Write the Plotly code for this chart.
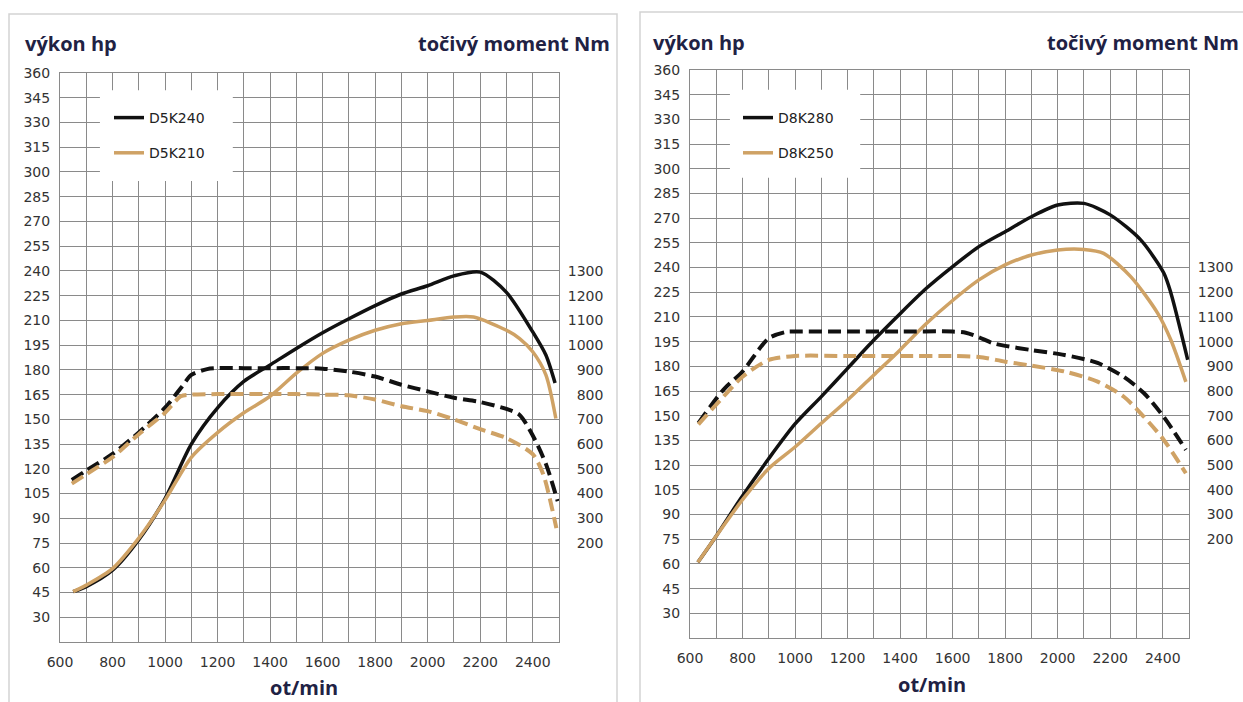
import plotly.graph_objects as go

W, H = 1243, 702

# ---------------- data: left panel (D5K240 / D5K210) ----------------
rpm_a = [650, 700, 800, 900, 1000, 1100, 1200, 1300, 1400, 1500, 1600, 1700, 1800, 1900, 2000, 2100, 2200, 2300, 2400, 2450, 2485]
hp_d5k240 = [45.5, 48.6, 58.5, 77, 102, 135, 157, 173, 183, 193, 202.5, 211, 219, 226, 231, 237, 239.3, 227, 203, 189, 172]

rpm_b = [650, 700, 800, 900, 1000, 1100, 1200, 1300, 1400, 1500, 1600, 1700, 1800, 1900, 2000, 2100, 2175, 2300, 2350, 2400, 2450, 2488]
hp_d5k210 = [45.5, 49.5, 59.5, 78, 101, 127, 142, 154, 164, 178, 190, 198, 204, 208, 210, 212, 212, 204, 199, 191, 177, 150.5]

rpm_c = [645, 700, 800, 900, 1000, 1065, 1100, 1160, 1200, 1300, 1400, 1500, 1600, 1700, 1800, 1900, 2000, 2100, 2200, 2300, 2350, 2400, 2450, 2495]
nm_d5k240 = [455, 493, 560, 647, 747, 833, 880, 903, 907, 907, 907, 907, 905, 893, 873, 840, 813, 787, 770, 742, 718, 635, 520, 369]

rpm_d = [645, 700, 800, 900, 1000, 1060, 1100, 1200, 1300, 1400, 1500, 1600, 1700, 1800, 1900, 2000, 2100, 2200, 2300, 2400, 2440, 2490]
nm_d5k210 = [440, 478, 547, 640, 727, 793, 800, 802, 802, 802, 802, 800, 797, 780, 753, 733, 700, 660, 624, 559, 478, 260]

# ---------------- data: right panel (D8K280 / D8K250) ----------------
rpm_e = [630, 700, 790, 900, 1000, 1100, 1200, 1300, 1400, 1500, 1600, 1700, 1800, 1900, 2000, 2100, 2200, 2316, 2404, 2431, 2495]
hp_d8k280 = [61, 77, 99, 124, 145, 161.6, 178.8, 196, 212, 227.4, 240.6, 252.7, 261.8, 270.9, 278, 279, 272, 256.8, 236.7, 224.6, 184]

rpm_f = [630, 700, 800, 900, 1000, 1100, 1200, 1300, 1400, 1500, 1600, 1700, 1800, 1900, 2000, 2100, 2175, 2278, 2381, 2431, 2488]
hp_d8k250 = [61, 77, 99, 118, 131, 145.4, 159.6, 174.8, 190, 206, 220, 232.5, 241.6, 247.6, 250.7, 251, 248.6, 234.5, 212.2, 196, 170.6]

rpm_g = [632, 727, 800, 900, 969, 1000, 1200, 1400, 1600, 1650, 1700, 1750, 1800, 1900, 2026, 2152, 2252, 2328, 2404, 2488]
nm_d8k280 = [670, 805, 879, 1014, 1040, 1041, 1041, 1041, 1041, 1036, 1018, 995, 983, 966, 946, 914, 857, 792, 695, 562]

rpm_h = [632, 727, 800, 900, 1000, 1200, 1400, 1600, 1700, 1800, 1900, 2026, 2152, 2252, 2328, 2404, 2488]
nm_d8k250 = [665, 777, 858, 926, 942, 942, 942, 942, 938, 919, 903, 879, 838, 777, 696, 602, 467]

# axis ticks
x_ticks = list(range(600, 2401, 200))
hp_ticks = list(range(30, 361, 15))
nm_ticks = list(range(200, 1301, 100))
nm_labels = [("\u2007" + str(v)) if v < 1000 else str(v) for v in nm_ticks]

BLACK = "#111111"
GOLD = "#CFA265"
GRID = "#8a8a8a"
TXT = "#333333"
TITLE = "#1f2244"

fig = go.Figure()

def add(x, y, xa, ya, color, dash, name, legend, show):
    fig.add_trace(go.Scatter(
        x=x, y=y, xaxis=xa, yaxis=ya, mode="lines", name=name,
        line=dict(color=color, width=4 if dash else 3.5, dash=dash, shape="spline", smoothing=0.75),
        showlegend=show, legend=legend, legendgroup=name, hoverinfo="skip"))

add(rpm_a, hp_d5k240, "x", "y", BLACK, None, "D5K240", "legend", True)
add(rpm_b, hp_d5k210, "x", "y", GOLD, None, "D5K210", "legend", True)
add(rpm_c, nm_d5k240, "x", "y2", BLACK, "13px,6px", "D5K240 Nm", "legend", False)
add(rpm_d, nm_d5k210, "x", "y2", GOLD, "13px,6px", "D5K210 Nm", "legend", False)

add(rpm_e, hp_d8k280, "x2", "y3", BLACK, None, "D8K280", "legend2", True)
add(rpm_f, hp_d8k250, "x2", "y3", GOLD, None, "D8K250", "legend2", True)
add(rpm_g, nm_d8k280, "x2", "y4", BLACK, "13px,6px", "D8K280 Nm", "legend2", False)
add(rpm_h, nm_d8k250, "x2", "y4", GOLD, "13px,6px", "D8K250 Nm", "legend2", False)

tickfont = dict(family="DejaVu Sans", size=14, color=TXT)

def px_x(p):
    return p / W

def px_y(p):
    return 1 - p / H

# Plot areas (pixels)
L = dict(x0=60, x1=559, top=73, bottom=642)
R = dict(x0=690, x1=1189, top=70, bottom=638)

def xaxis_cfg(area, anchor):
    return dict(domain=[px_x(area["x0"]), px_x(area["x1"])], anchor=anchor, automargin=False,
                range=[600, 2500], tickvals=x_ticks, showgrid=True, gridcolor=GRID, gridwidth=1,
                minor=dict(dtick=100, tick0=600, showgrid=True, gridcolor=GRID, gridwidth=1),
                showline=True, linecolor=GRID, linewidth=1, mirror=True, zeroline=False,
                ticks="outside", ticklen=7, tickcolor="rgba(0,0,0,0)", tickfont=tickfont)

def yaxis_cfg(area, anchor):
    return dict(domain=[px_y(area["bottom"]), px_y(area["top"])], anchor=anchor, automargin=False,
                range=[15, 360], tickvals=hp_ticks, showgrid=True, gridcolor=GRID, gridwidth=1,
                showline=True, linecolor=GRID, linewidth=1, mirror=True, zeroline=False,
                ticks="outside", ticklen=6, tickcolor="rgba(0,0,0,0)", tickfont=tickfont)

# Nm axis aligned so that 1300 Nm <-> 240 hp and 100 Nm <-> 15 hp
nm_range = [1300 + (15 - 240) * 100 / 15, 1300 + (360 - 240) * 100 / 15]

def y2_cfg(overlay, anchor):
    return dict(overlaying=overlay, anchor=anchor, side="right", range=nm_range, automargin=False,
                tickvals=nm_ticks, ticktext=nm_labels, showgrid=False, zeroline=False,
                showline=False, ticks="outside", ticklen=5, tickcolor="rgba(0,0,0,0)",
                tickfont=tickfont)

legend_common = dict(bgcolor="rgba(0,0,0,0)", borderwidth=0, tracegroupgap=14,
                     font=dict(family="DejaVu Sans", size=14, color="#222222"),
                     xanchor="left", yanchor="top", traceorder="grouped", itemwidth=30)

fig.update_layout(
    width=W, height=H, margin=dict(l=0, r=0, t=0, b=0, autoexpand=False),
    paper_bgcolor="white", plot_bgcolor="white",
    xaxis=xaxis_cfg(L, "y"), yaxis=yaxis_cfg(L, "x"), yaxis2=y2_cfg("y", "x"),
    xaxis2=xaxis_cfg(R, "y3"), yaxis3=yaxis_cfg(R, "x2"), yaxis4=y2_cfg("y3", "x2"),
    legend=dict(x=px_x(109), y=px_y(102), **legend_common),
    legend2=dict(x=px_x(738), y=px_y(102), **legend_common),
)

shapes = []
# panel frames
shapes.append(dict(type="rect", xref="paper", yref="paper", x0=px_x(9), x1=px_x(617),
                   y0=-0.05, y1=px_y(14), line=dict(color="#d3d3d3", width=1.5), layer="below"))
shapes.append(dict(type="rect", xref="paper", yref="paper", x0=px_x(640), x1=1.05,
                   y0=-0.05, y1=px_y(12), line=dict(color="#d3d3d3", width=1.5), layer="below"))
# white legend backgrounds hiding the grid
shapes.append(dict(type="rect", xref="x", yref="y", x0=752, x1=1258, y0=294.5, y1=349.5,
                   fillcolor="white", line=dict(width=0), layer="between"))
shapes.append(dict(type="rect", xref="x2", yref="y3", x0=752, x1=1248, y0=294.5, y1=348,
                   fillcolor="white", line=dict(width=0), layer="between"))
fig.update_layout(shapes=shapes)

tfont = dict(family="Open Sans", size=20, color=TITLE)
ann = [
    dict(text="<b>výkon hp</b>", x=px_x(23), y=px_y(43), xanchor="left", yanchor="middle"),
    dict(text="<b>točivý moment Nm</b>", x=px_x(612), y=px_y(43), xanchor="right", yanchor="middle"),
    dict(text="<b>výkon hp</b>", x=px_x(651), y=px_y(42), xanchor="left", yanchor="middle"),
    dict(text="<b>točivý moment Nm</b>", x=px_x(1241), y=px_y(42), xanchor="right", yanchor="middle"),
    dict(text="<b>ot/min</b>", x=px_x(304), y=px_y(687), xanchor="center", yanchor="middle"),
    dict(text="<b>ot/min</b>", x=px_x(932), y=px_y(684), xanchor="center", yanchor="middle"),
]
for a in ann:
    a.update(xref="paper", yref="paper", showarrow=False, font=tfont)
fig.update_layout(annotations=ann)

fig.write_html("out.html")
